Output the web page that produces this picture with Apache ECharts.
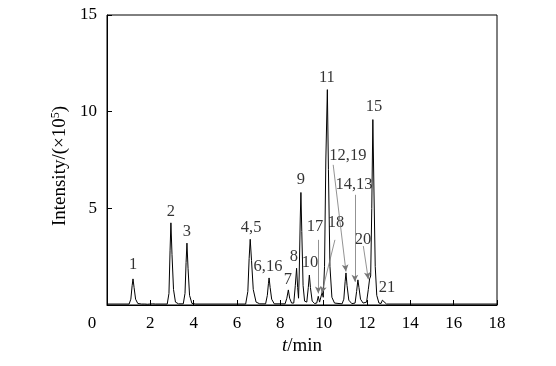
<!DOCTYPE html>
<html><head><meta charset="utf-8">
<script src="https://cdn.jsdelivr.net/npm/echarts@6/dist/echarts.min.js"></script>
<style>html,body{margin:0;padding:0;background:#fff}#c{width:556px;height:366px}</style>
</head><body><div id="c"></div>
<script>
// Chromatogram trace: [time (min), intensity (x10^5)]
const trace = [
 [0,0.05],[1.02,0.05],[1.10,0.3],[1.16,1.0],[1.20,1.35],[1.25,0.9],[1.32,0.3],[1.42,0.08],[1.6,0.05],
 [1.75,0.05],[1.80,0.14],[1.86,0.04],[1.92,0.12],[1.98,0.05],[2.04,0.15],[2.10,0.06],[2.18,0.1],[2.25,0.05],
 [2.78,0.05],[2.86,0.6],[2.91,2.8],[2.95,4.25],[3.0,2.6],[3.07,0.8],[3.16,0.15],[3.3,0.06],
 [3.52,0.06],[3.60,0.6],[3.65,2.2],[3.69,3.2],[3.74,1.9],[3.81,0.5],[3.92,0.08],[4.1,0.05],
 [6.40,0.05],[6.50,0.7],[6.56,2.4],[6.61,3.4],[6.67,2.3],[6.75,0.8],[6.88,0.15],[7.05,0.06],
 [7.32,0.06],[7.40,0.5],[7.45,1.1],[7.48,1.4],[7.53,0.9],[7.60,0.3],[7.72,0.06],
 [8.22,0.06],[8.30,0.35],[8.37,0.78],[8.43,0.35],[8.52,0.1],
 [8.62,0.1],[8.69,1.0],[8.75,1.9],[8.80,0.9],[8.84,0.35],
 [8.87,1.5],[8.92,4.5],[8.95,5.82],[8.99,3.8],[9.05,1.0],[9.12,0.2],
 [9.22,0.15],[9.29,0.9],[9.34,1.55],[9.39,0.9],[9.47,0.2],[9.58,0.08],
 [9.68,0.1],[9.75,0.45],[9.81,0.15],
 [9.86,0.2],[9.93,0.65],[9.98,0.4],
 [10.04,2.0],[10.10,7.5],[10.17,11.14],[10.22,7.0],[10.29,2.0],[10.38,0.4],[10.5,0.1],[10.85,0.06],
 [10.93,0.3],[10.99,1.2],[11.03,1.66],[11.08,1.0],[11.16,0.25],[11.3,0.07],
 [11.45,0.1],[11.52,0.7],[11.58,1.3],[11.63,0.9],[11.70,0.3],[11.82,0.1],
 [11.98,0.15],[12.06,0.8],[12.12,1.35],[12.17,1.5],
 [12.22,5.0],[12.27,9.59],[12.32,6.0],[12.38,2.0],[12.45,0.5],[12.55,0.1],
 [12.65,0.08],[12.71,0.25],[12.75,0.35],[12.80,0.15],[12.9,0.05],[18,0.05]
];
// Peak labels: [time, intensity, text]
const peakLabels = [
 [1.20,2.07,'1'],[2.95,4.82,'2'],[3.69,3.79,'3'],[6.65,3.99,'4,5'],[7.43,1.97,'6,16'],
 [8.35,1.30,'7'],[8.63,2.49,'8'],[8.95,6.48,'9'],[9.37,2.18,'10'],[9.60,4.04,'17'],
 [10.57,4.25,'18'],[10.15,11.76,'11'],[12.32,10.26,'15'],[11.12,7.72,'12,19'],
 [11.40,6.22,'14,13'],[11.81,3.37,'20'],[12.92,0.88,'21']
];
// Arrows: [fromT, fromI, toT, toI]
const arrows = [
 [9.75,3.37,9.75,0.60],
 [10.52,3.37,9.91,0.60],
 [10.44,7.25,11.03,1.73],
 [11.44,5.7,11.44,1.2],
 [11.83,3.05,12.06,1.33]
];
const xTicks = {min:0,max:18,interval:2};
const yTicks = {min:0,max:15,interval:5};

const F = 'Liberation Serif, Times New Roman, serif';
const chart = echarts.init(document.getElementById('c'));
chart.setOption({
  animation:false,
  grid:{left:107,right:59,top:15,bottom:61,show:true,borderColor:'#000',borderWidth:1,backgroundColor:'transparent'},
  xAxis:{type:'value',min:xTicks.min,max:xTicks.max,interval:xTicks.interval,
    name:'{i|t}/min',nameLocation:'middle',nameGap:31,
    nameTextStyle:{fontFamily:F,fontSize:19,color:'#000',rich:{i:{fontFamily:F,fontSize:19,fontStyle:'italic',color:'#000'}}},
    axisLine:{show:true,lineStyle:{color:'#000',width:1}},
    axisTick:{show:true,inside:true,length:5,lineStyle:{color:'#000'}},
    splitLine:{show:false},
    axisLabel:{fontFamily:F,fontSize:17,color:'#000',margin:10,
      formatter:v=> v===0 ? '{o|0}' : String(v),
      rich:{o:{fontFamily:F,fontSize:17,color:'#000',padding:[0,30,0,0]}}}
  },
  yAxis:{type:'value',min:yTicks.min,max:yTicks.max,interval:yTicks.interval,
    name:'Intensity/(×10{s|5})',nameLocation:'middle',nameGap:34,
    nameTextStyle:{fontFamily:F,fontSize:19,color:'#000',padding:[0,12,0,0],rich:{s:{fontFamily:F,fontSize:12,color:'#000',verticalAlign:'top',padding:[0,0,7,0]}}},
    axisLine:{show:true,lineStyle:{color:'#000',width:1}},
    axisTick:{show:true,inside:true,length:5,lineStyle:{color:'#000'}},
    splitLine:{show:false},
    axisLabel:{fontFamily:F,fontSize:17,color:'#000',margin:10,formatter:v=> v===0?'':String(v)}
  },
  series:[
    {type:'line',data:trace,symbol:'none',lineStyle:{color:'#000',width:1},
      markLine:{silent:true,symbol:['none','arrow'],symbolSize:[5,7],
        lineStyle:{color:'#777',width:0.8,type:'solid'},label:{show:false},
        data:arrows.map(a=>[{coord:[a[0],a[1]]},{coord:[a[2],a[3]]}])}
    },
    {type:'scatter',data:peakLabels.map(p=>({value:[p[0],p[1]],name:p[2]})),symbolSize:0,silent:true,
      label:{show:true,position:'inside',formatter:p=>p.name,fontFamily:F,fontSize:16.5,color:'#000'}}
  ]
});
</script></body></html>
